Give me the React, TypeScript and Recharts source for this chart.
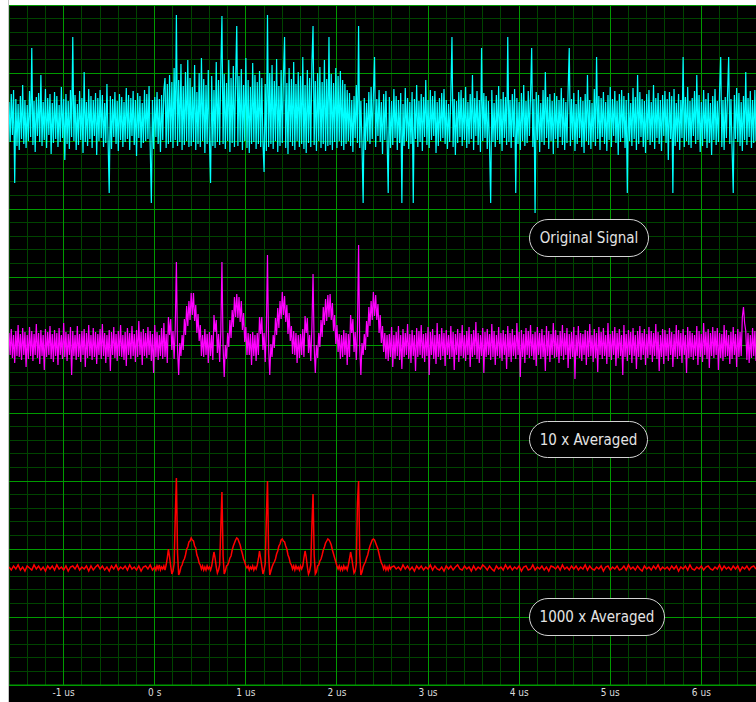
import React from 'react';
import { ComposedChart, Line, XAxis, YAxis, CartesianGrid } from 'recharts';

// time axis (us) and vertical scale (1 unit ~ 1 screen px, 68 units per division)
const xMajorTicks = [-1, 0, 1, 2, 3, 4, 5, 6];
const xDomain: [number, number] = [-1.6, 6.6];
const yDomain: [number, number] = [0, 680];

const sampleStep = 0.0125;
const flatStep = 0.025;

// channel positions
const cyanLevel = 565;
const magentaLevel = 340;
const redLevel = 117;

const cyanSamples = [
  18, -22, 26, -15, 30, -63, 21, -26, 16, -30, 24, -19, 35, -24, 20, -28, 15, -21, 29, -17,
  72, -25, 19, -32, 23, -16, 27, -22, 45, -26, 18, -20, 31, -28, 22, -15, 26, -34, 17, -23,
  28, -19, 24, -27, 15, -22, 33, -18, 21, -40, 26, -24, 19, -29, 30, -17, 83, -21, 25, -30,
  16, -25, 29, -20, 22, -33, 48, -22, 18, -26, 31, -19, 24, -28, 20, -16, 27, -35, 22, -21,
  30, -18, 25, -27, 17, -23, 36, -20, -73, 24, -29, 21, -17, 28, -24, 19, -31, 26, -20, 23,
  -27, 18, -22, 32, -19, 25, -30, 22, -16, 29, -25, 20, -36, 27, -18, 24, -28, 17, -23, 30,
  -21, 26, -19, 34, -26, -83, 20, -29, 23, -17, 28, -24, 21, -32, 25, -20, 30, 42, -28, 36,
  -24, 45, -22, 38, -28, 52, -20, 105, -26, 40, -22, 56, -30, 34, -25, 48, -21, 60, -27, 42,
  -26, 33, -22, 55, -30, 28, -24, 47, -27, 62, -21, 41, -33, 35, -24, 50, -20, -63, 44, -26,
  30, -28, 58, -22, 40, -25, 49, 104, -24, 46, -29, 37, -21, 60, -32, 42, -23, 54, -27, 39,
  94, -26, 44, -22, 51, -30, 35, -21, 62, -28, 40, -33, 33, -24, 57, -22, 45, -29, 38, -24,
  49, -27, 42, -22, -52, 36, -31, 105, -27, 47, -24, 55, -29, 39, -21, 61, -32, 34, -26, 50,
  -23, 43, 83, -28, 37, -34, 52, -22, 41, -26, 58, -30, 36, -21, 48, -27, 44, -24, 63, -29,
  35, -33, 50, -23, 42, -27, 56, 94, -25, 39, -31, 47, -21, 53, -28, 38, -24, 60, -31, 41,
  -26, 83, -25, 46, -30, 37, -22, 52, -28, 44, -21, 49, -26, 40, -30, 36, -24, 30, -21, 27,
  -26, 20, -32, 24, -18, 35, -23, 94, -28, 19, -25, -83, 22, -30, 17, -21, 28, -24, 33, -19,
  25, 63, -27, 21, -16, 30, -22, 18, -34, 26, -20, 29, -17, -73, 23, -28, 19, -25, 31, -18,
  24, -30, 20, -23, 27, -83, 16, -26, 32, -21, 22, -29, 18, -24, 28, -83, 21, -19, 35, -27,
  19, -22, 26, -31, 23, -17, 40, -25, 20, -28, 30, -20, 24, -16, 29, -33, 18, -26, 22, -21,
  27, -18, 31, -24, 20, -29, 16, -22, 25, 83, -27, 21, -35, 19, -23, 28, -17, 30, -26, 22,
  -20, 33, -28, 18, -24, 26, -19, 45, -30, 22, -16, 29, -25, 20, -32, 72, -21, 27, -18, 24,
  -29, 19, -26, -83, 30, -22, 17, -27, 25, -20, 34, -24, 21, -31, 28, -18, 23, -25, 83, -22,
  20, -28, 26, -17, 31, -73, 22, -24, 18, -30, 27, -21, 35, -26, 19, -23, 29, -16, 24, 72,
  -27, 21, -93, 28, -20, 25, -32, 17, -22, 30, -25, 48, -18, 23, -29, 26, -21, 19, -34, 27,
  -19, 24, -28, 20, -17, 32, -25, 22, -30, 18, -23, 29, 72, -26, 21, -20, 27, -31, 16, -24,
  30, -18, 23, -27, 19, -33, 26, -21, 45, -25, 20, -29, 17, -22, 31, -26, 63, -19, 24, -30,
  22, -17, 28, -24, 18, -31, 25, -20, 33, -27, 21, -16, 29, -23, 19, -35, 26, -22, 30, -18,
  24, -28, 20, -73, 27, -21, 17, -26, 32, -19, 23, -30, 45, -24, 28, -17, 21, -27, 19, -33,
  26, -20, 30, -25, 18, -22, 35, -29, 22, -18, 27, -24, 20, -31, 25, -16, 29, -23, 21, -40,
  28, -19, 24, -73, 31, -26, 17, -22, 26, -30, 20, -18, 63, -27, 23, -21, 33, -25, 19, -28,
  22, -16, 29, -24, 45, -20, 25, -32, 18, -26, 30, -19, 21, -28, 27, -23, 17, -35, 24, -20,
  31, -25, 19, -22, 28, 63, -27, 20, -30, 23, -18, 26, 63, -24, 21, -29, -73, 25, -19, 32,
  -22, 27, -26, 18, -31, 24, -20, 48, -25, 22, -17, 29, -28, 20, -23, 30, -21,
];

const magentaSamples = [
  12, -10, 16, -13, 10, -18, 14, -11, 20, -12, 11, -15, 17, -10, 13, -22, 10, -14, 18, -11,
  14, -16, 11, -10, 21, -13, 12, -19, 15, -11, 10, -25, 16, -12, 13, -10, 19, -14, 11, -17,
  15, -11, 12, -20, 17, -10, 10, -14, 22, -12, 13, -16, 11, -10, 18, -30, 14, -11, 10, -15,
  19, -12, 11, -17, 14, -10, 16, -22, 12, -13, 20, -11, 10, -15, 17, -12, 13, -19, 11, -10,
  16, -14, 21, -11, 12, -18, 10, -12, 15, -26, 13, -10, 18, -13, 11, -16, 14, -11, 20, -12,
  10, -15, 13, -21, 17, -10, 12, -14, 19, -11, 11, -17, 15, -12, 24, -10, 13, -20, 16, -11,
  12, -13, 18, -10, 14, -16, 11, -28, 20, -12, 13, -15, 10, -11, 17, -14, 22, -12, 11, -18,
  28, 10, 26, -5, 14, -14, 17, 83, -4, -30, 2, -11, 10, -5, 26, 10, 39, 19, 44, 25,
  52, 30, 52, 24, 40, 12, 31, 4, 20, -11, 10, -12, 16, -10, 11, -18, 13, -11, 10, -15,
  30, 13, 25, -8, 11, -17, 14, 83, -2, -32, 0, -14, 12, -2, 25, 7, 35, 18, 48, 28,
  51, 27, 48, 23, 44, 15, 32, 3, 18, -10, 12, -10, 11, -20, 13, -11, 10, -16, 12, -10,
  28, 11, 28, -5, 12, -17, 15, 90, -3, -30, 1, -12, 10, -3, 27, 10, 37, 17, 44, 26,
  53, 30, 49, 23, 40, 11, 32, 4, 19, -9, 14, -10, 12, -18, 10, -13, 11, -10, 16, -12,
  29, 12, 27, -8, 10, -16, 18, 71, -2, -28, 0, -13, 12, -2, 25, 8, 38, 20, 46, 24,
  50, 28, 51, 25, 42, 14, 30, 1, 20, -7, 11, -14, 10, -12, 15, -10, 12, -20, 11, -12,
  30, 12, 26, -7, 13, -15, 15, 100, -2, -30, 2, -10, 11, -5, 24, 8, 38, 19, 44, 25,
  53, 29, 50, 25, 41, 12, 30, 2, 19, -7, 12, -14, 10, -16, 11, -12, 18, -22, 10, -14,
  13, -11, 19, -15, 10, -24, 16, -12, 12, -10, 21, -14, 11, -18, 15, -11, 10, -26, 17, -12,
  14, -10, 20, -13, 11, -17, 12, -11, 18, -30, 13, -10, 16, -14, 10, -19, 22, -12, 11, -15,
  17, -11, 12, -21, 15, -10, 10, -14, 19, -12, 13, -25, 11, -10, 16, -17, 12, -11, 20, -13,
  10, -16, 14, -10, 18, -22, 11, -12, 15, -10, 23, -14, 12, -18, 10, -11, 17, -28, 13, -12,
  16, -10, 11, -15, 21, -12, 14, -20, 10, -11, 18, -13, 12, -16, 15, -10, 11, -24, 19, -12,
  12, -17, 16, -11, 10, -14, 22, -10, 13, -32, 15, -12, 11, -18, 17, -10, 14, -13, 20, -11,
  11, -15, 13, -21, 18, -10, 12, -14, 16, -12, 10, -26, 19, -11, 14, -17, 11, -10, 22, -13,
  15, -12, 10, -18, 14, -11, 20, -15, 12, -10, 17, -23, 11, -14, 13, -12, 18, -34, 10, -11,
  19, -13, 12, -16, 11, -10, 15, -20, 14, -12, 21, -11, 10, -17, 16, -13, 12, -27, 18, -10,
  13, -14, 17, -11, 10, -19, 22, -12, 11, -15, 14, -10, 18, -21, 12, -13, 16, -11, 10, -30,
  20, -12, 11, -16, 15, -10, 13, -18, 17, -11, 10, -24, 14, -12, 19, -15, 12, -10, 16, -20,
  11, -13, 18, -10, 14, -17, 12, -11, 21, -14, 13, -26, 10, -12, 16, -19, 15, -11, 11, -16,
  17, -10, 13, -22, 11, -12, 20, -14, 15, -11, 12, -18, 16, -10, 10, -28, 18, -13, 14, -12,
  12, -15, 10, -11, 19, -20, 14, -12, 11, -17, 22, -10, 13, -14, 16, -23, 12, -11, 18, -13,
  14, -10, 17, -25, 12, -13, 11, -16, 20, -12, 15, -11, 10, -19, 13, -14, 18, -10, 11, -22,
  16, -12, 13, -11, 28, 38, 22, 14, -15, 12, -18, 10, -13, 17, -11, 14, -16,
];

// red: flat before the burst, burst (0 .. 2.6 us), flat after
const redBefore = [
  1, -2, 2, -1, 3, -2, 1, -3, 2, 0, -2, 3, -1, 2, -2, 1, -3, 2, -1, 2,
  -2, 3, -1, 1, -2, 2, -3, 1, 2, -1, 3, -2, 1, -1, 2, -3, 2, -2, 1, 3,
  -1, 2, -2, 1, -3, 2, -1, 3, -2, 1, -1, 2, -2, 3, -1, 1, -2, 2, -3, 1,
  2, -1, 3, -2,
];

const redBurst = [
  1, -2, 2, -1, 3, -2, 1, -1, 2, -2,
  3, 10, 19, 11, 2, -6, -3, 4, 50, 90,
  15, -7, -4, 1, 3, 7, 9, 13, 19, 21,
  26, 27, 30, 28, 27, 22, 20, 13, 10, 5,
  3, -1, 2, -2, 1, -2, 2, -1, 1, -2,
  2, 9, 16, 10, 1, -5, -2, 3, 40, 76,
  12, -6, -3, 2, 3, 6, 10, 12, 18, 22,
  25, 28, 30, 29, 26, 23, 18, 14, 9, 6,
  2, 0, 2, -2, 1, -1, 2, -2, 1, -1,
  3, 9, 17, 10, 2, -6, -2, 4, 50, 87,
  14, -7, -3, 1, 4, 6, 9, 14, 17, 22,
  24, 28, 29, 27, 26, 22, 19, 13, 10, 5,
  3, -1, 2, -2, 2, -1, 1, -2, 2, -1,
  2, 10, 17, 11, 1, -6, -3, 3, 42, 74,
  13, -6, -4, 2, 3, 7, 9, 13, 18, 21,
  25, 27, 29, 28, 26, 23, 18, 14, 10, 6,
  2, -1, 2, -2, 1, -2, 2, -1, 1, -2,
  3, 9, 16, 10, 2, -5, -3, 4, 65, 87,
  14, -7, -4, 1, 4, 6, 10, 13, 18, 22,
  25, 28, 29, 28, 25, 22, 19, 14, 9, 5,
  3, -1, 2, -2, 1, -2, 2, -1, 1,
];

const redAfter = [
  2, -1, 1, -2, 3, -1, 2, -2, 1, -3, 2, -1, 2, -2, 1, -1, 3, -2, 2, -1,
  -2, 1, -3, 2, -1, 2, -2, 1, 3, -1, -2, 2, -1, 1, -3, 2, -2, 1, -1, 3,
  1, -2, 2, -1, -3, 2, -1, 1, -2, 3, -1, 2, -2, 1, -1, 2, -3, 1, 2, -2,
  -1, 3, -2, 1, -1, 2, -2, 1, -3, 2, 1, -1, 2, -2, 3, -1, 1, -2, 2, -1,
  2, -2, 1, -1, 3, -2, 2, -1, -2, 1, -1, 2, -3, 1, 2, -2, 1, -1, 2, -2,
  -1, 2, -2, 3, -1, 1, -2, 2, -1, -3, 2, -1, 1, -2, 2, -1, 3, -2, 1, -1,
  1, -2, 2, -1, 2, -3, 1, -1, 2, -2, 3, -1, -2, 1, -1, 2, -2, 1, 2, -1,
  -2, 1, -1, 3, -2, 2, -1, 1, -2, 2, -1, 2, -3, 1, -1, 2, -2, 1, 2, -1,
];

const labels = [
  { text: 'Original Signal', left: 529, top: 219, width: 120, height: 38 },
  { text: '10 x Averaged', left: 529, top: 421, width: 119, height: 37 },
  { text: '1000 x Averaged', left: 529, top: 598, width: 136, height: 38 },
];

const toSeries = (samples: number[], start: number, step: number, level: number) =>
  samples.map((v, i) => ({ t: +(start + i * step).toFixed(4), v: level + v }));

const cyanData = toSeries(cyanSamples, xDomain[0], sampleStep, cyanLevel);
const magentaData = toSeries(magentaSamples, xDomain[0], sampleStep, magentaLevel);
const redData = [
  ...toSeries(redBefore, xDomain[0], flatStep, redLevel),
  ...toSeries(redBurst, 0, sampleStep, redLevel),
  ...toSeries(redAfter, 2.625, flatStep, redLevel),
];

const xMinorTicks: number[] = [];
for (let k = -8; k <= 33; k++) xMinorTicks.push(+(k * 0.2).toFixed(2));
const yMajorTicks: number[] = [];
const yMinorTicks: number[] = [];
for (let k = 0; k <= 50; k++) {
  yMinorTicks.push(+(k * 13.6).toFixed(1));
  if (k % 5 === 0) yMajorTicks.push(k * 13.6);
}

const minorGreen = '#004400';
const majorGreen = '#009a00';
const fontStack = '"DejaVu Sans Condensed", "Liberation Sans Narrow", "Liberation Sans", sans-serif';

function formatTime(v: number) {
  return v === 0 ? '0 s' : `${v} us`;
}

// grid line drawn with an explicit colour, snapped to whole pixels
const gridLine = (color: string) => (p: any) => (
  <line
    key={p.key}
    x1={p.x1}
    y1={p.y1}
    x2={p.x2}
    y2={p.y2}
    stroke={color}
    strokeWidth={1}
    fill="none"
    shapeRendering="crispEdges"
  />
);

export default function App() {
  return (
    <div style={{ position: 'absolute', left: 0, top: 0, width: 756, height: 702, background: '#fff', overflow: 'hidden' }}>
      <div style={{ position: 'absolute', left: 8, top: 0, width: 1, height: 702, background: '#c4c4c4' }} />
      <div style={{ position: 'absolute', left: 9, top: 5, width: 747, height: 697, background: '#000' }}>
        <ComposedChart width={747} height={697} margin={{ top: 0, right: 0, bottom: 0, left: 0 }}>
          <CartesianGrid
            horizontal={gridLine(minorGreen)}
            vertical={gridLine(minorGreen)}
            verticalValues={xMinorTicks}
            horizontalValues={yMinorTicks}
          />
          <CartesianGrid
            horizontal={gridLine(majorGreen)}
            vertical={gridLine(majorGreen)}
            verticalValues={xMajorTicks}
            horizontalValues={yMajorTicks}
          />
          <XAxis
            dataKey="t"
            type="number"
            domain={xDomain}
            ticks={xMajorTicks}
            interval={0}
            allowDataOverflow
            tickFormatter={formatTime}
            tickLine={false}
            tickSize={0}
            tickMargin={4}
            axisLine={{ stroke: majorGreen }}
            height={17}
            tick={{ fill: '#dcdcdc', fontSize: 10, fontFamily: fontStack }}
          />
          <YAxis type="number" domain={yDomain} ticks={yMajorTicks} interval={0} allowDataOverflow hide />
          <Line data={cyanData} dataKey="v" stroke="#00ffff" strokeWidth={1.2} dot={false} isAnimationActive={false} />
          <Line data={magentaData} dataKey="v" stroke="#ff00ff" strokeWidth={1.2} dot={false} isAnimationActive={false} />
          <Line data={redData} dataKey="v" stroke="#ff0000" strokeWidth={1.5} dot={false} isAnimationActive={false} />
        </ComposedChart>
      </div>
      {labels.map((l) => (
        <div
          key={l.text}
          style={{
            position: 'absolute',
            left: l.left,
            top: l.top,
            width: l.width,
            height: l.height,
            boxSizing: 'border-box',
            border: '1px solid #d4d4d4',
            borderRadius: l.height / 2,
            background: '#000',
            color: '#e4e4e4',
            fontFamily: fontStack,
            fontSize: 15,
            display: 'flex',
            alignItems: 'center',
            justifyContent: 'center',
          }}
        >
          {l.text}
        </div>
      ))}
    </div>
  );
}
